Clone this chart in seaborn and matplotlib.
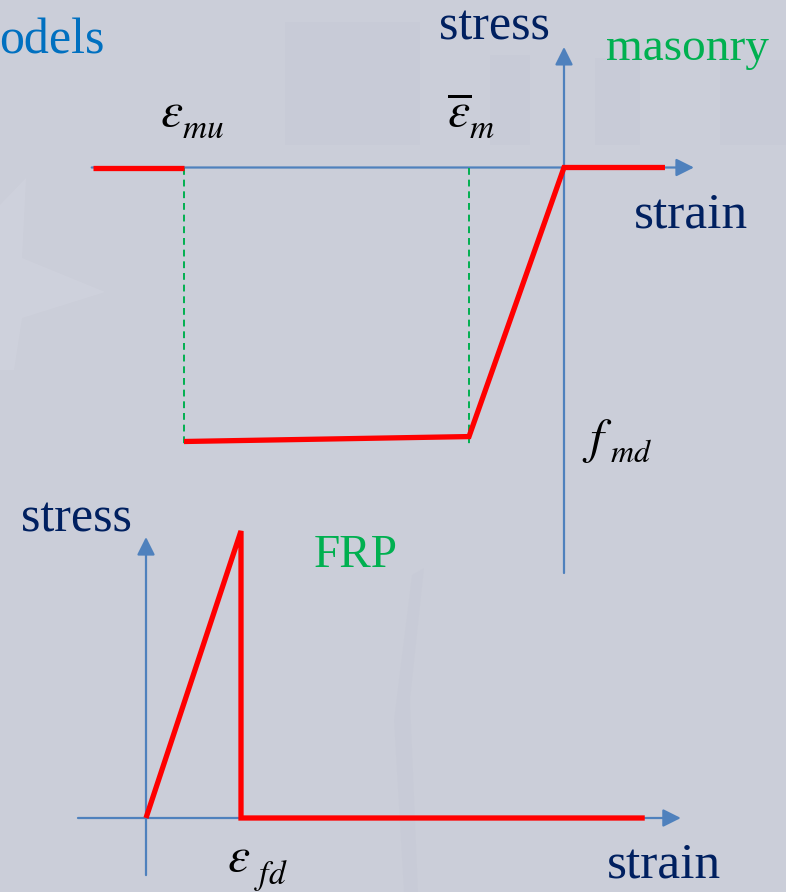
import matplotlib
matplotlib.use("Agg")
import matplotlib.pyplot as plt
from matplotlib.patches import Polygon, Rectangle
import seaborn as sns

# ---- masonry constitutive law (strain in permil, stress normalised by f_md) ----
masonry_strain = [-3.5, -0.875, 0.0, 0.93]
masonry_stress = [-1.0, -0.982, 0.0, 0.0]
masonry_tail_strain = [-4.34, -3.5]
masonry_tail_stress = [0.0, 0.0]
eps_mu = -3.5
eps_m_bar = -0.875

# ---- FRP constitutive law (strain normalised by eps_fd, stress by f_fd) ----
frp_strain = [0.0, 1.0, 1.0, 5.25]
frp_stress = [0.0, 1.0, 0.0, 0.0]

W, H = 786, 892
BG = "#CBCED9"
NAVY = "#002060"
GREEN = "#00B050"
AXBLUE = "#4F81BD"
RED = "#FF0000"

sns.set_style("white")
plt.rcParams["font.family"] = ["Liberation Serif", "DejaVu Serif"]
plt.rcParams["mathtext.fontset"] = "stix"

fig = plt.figure(figsize=(W / 100, H / 100), dpi=100)
fig.patch.set_facecolor(BG)


def fx(px):
    return px / W


def fy(py):
    return 1 - py / H


# faint watermark shapes in the slide background
bg = fig.add_axes([0, 0, 1, 1])
bg.set_xlim(0, W)
bg.set_ylim(H, 0)
bg.axis("off")
bg.set_facecolor(BG)
for (x0, y0, w, h) in [(285, 22, 135, 123), (490, 55, 40, 90), (595, 58, 45, 87),
                       (720, 60, 66, 85)]:
    bg.add_patch(Rectangle((x0, y0), w, h, color="#C4C7D3", lw=0, alpha=0.3))
bg.add_patch(Polygon([(0, 205), (26, 178), (22, 258), (105, 292), (22, 318),
                      (14, 370), (0, 370)], closed=True, color="#D2D4DF", lw=0, alpha=0.55))
bg.add_patch(Polygon([(412, 575), (424, 568), (410, 700), (418, 892), (404, 892),
                      (394, 720)], closed=True, color="#C5C8D4", lw=0, alpha=0.4))

# ---------------- masonry diagram ----------------
axm = fig.add_axes([0, 0, 1, 1])
axm.patch.set_alpha(0)
axm.set_xlim(-564 / 108.57, (W - 564) / 108.57)
axm.set_ylim((167.5 - H) / 274, 167.5 / 274)
axm.axis("off")

arrow_kw = dict(arrowstyle="-|>", color=AXBLUE, lw=1.6, mutation_scale=27,
                shrinkA=0, shrinkB=0)
axm.annotate("", xy=(1.197, 0), xytext=(-4.35, 0), arrowprops=arrow_kw, zorder=1)
axm.annotate("", xy=(0, 0.44), xytext=(0, -1.48), arrowprops=arrow_kw, zorder=1)

for e in (eps_mu, eps_m_bar):
    axm.plot([e, e], [0, -1.01], color=GREEN, lw=1.4, dashes=(3.5, 2.5), zorder=2)

line_kw = dict(color=RED, lw=3.8, sort=False, estimator=None, legend=False, zorder=3)
sns.lineplot(x=masonry_strain, y=masonry_stress, ax=axm, **line_kw)
sns.lineplot(x=masonry_tail_strain, y=masonry_tail_stress, ax=axm, **line_kw)
for ln in axm.lines:
    ln.set_solid_capstyle("butt")
    ln.set_solid_joinstyle("miter")

# ---------------- FRP diagram ----------------
axf = fig.add_axes([0, 0, 1, 1])
axf.patch.set_alpha(0)
axf.set_xlim(-146 / 95, (W - 146) / 95)
axf.set_ylim((818 - H) / 287, 818 / 287)
axf.axis("off")

axf.annotate("", xy=(5.63, 0), xytext=(-0.716, 0), arrowprops=arrow_kw, zorder=1)
axf.annotate("", xy=(0, 0.979), xytext=(0, -0.199), arrowprops=arrow_kw, zorder=1)
sns.lineplot(x=frp_strain, y=frp_stress, ax=axf, **line_kw)
for ln in axf.lines:
    ln.set_solid_capstyle("butt")
    ln.set_solid_joinstyle("miter")

# ---------------- texts ----------------
big = 36
fig.text(fx(-1), fy(53), "odels", color="#0070C0", fontsize=big, va="baseline")
fig.text(fx(439), fy(40), "stress", color=NAVY, fontsize=big, va="baseline")
fig.text(fx(606), fy(60), "masonry", color=GREEN, fontsize=34, va="baseline")
fig.text(fx(634), fy(227), "strain", color=NAVY, fontsize=37, va="baseline")
fig.text(fx(21), fy(531), "stress", color=NAVY, fontsize=big, va="baseline")
fig.text(fx(314), fy(567), "FRP", color=GREEN, fontsize=34, va="baseline")
fig.text(fx(607), fy(877), "strain", color=NAVY, fontsize=37, va="baseline")


def symbol(x, y, main, sub, dx, dy, msize=36, ssize=24):
    """Symbol with a detached, lowered subscript."""
    fig.text(fx(x), fy(y), main, fontsize=msize, va="baseline", color="black")
    fig.text(fx(x + dx), fy(y + dy), sub, fontsize=ssize, va="baseline", color="black")


symbol(160, 126, r"$\varepsilon$", r"$mu$", 22, 12)
symbol(447, 126, r"$\overline{\varepsilon}$", r"$m$", 22, 12)
symbol(582, 453, r"$f$", r"$md$", 28, 9, ssize=23)
symbol(227, 871, r"$\varepsilon$", r"$fd$", 27, 13)

fig.savefig("out.png", dpi=100, facecolor=BG)
